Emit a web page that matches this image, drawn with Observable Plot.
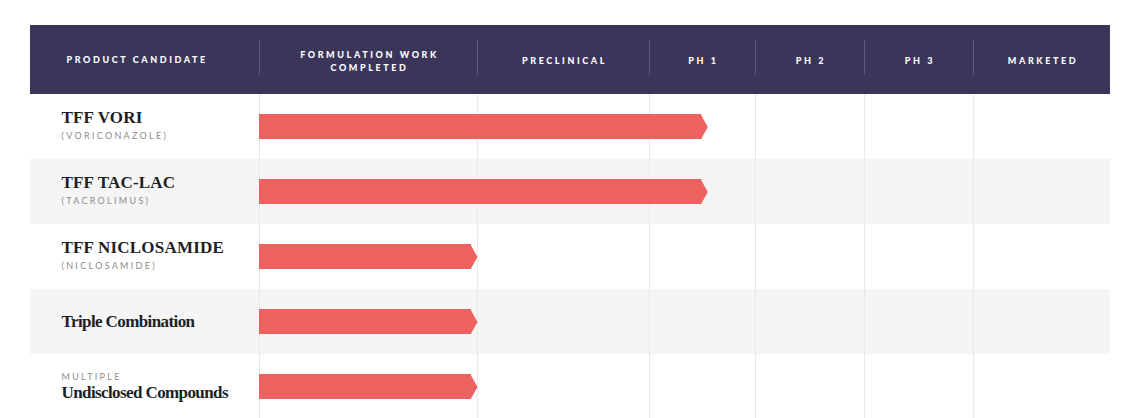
<!DOCTYPE html>
<html><head><meta charset="utf-8">
<script src="https://cdn.jsdelivr.net/npm/d3@7"></script>
<script src="https://cdn.jsdelivr.net/npm/@observablehq/plot@0.6"></script>
<style>
html,body{margin:0;padding:0;background:#fff;}
g[aria-description="header-label"] text{letter-spacing:2.6px;}
g[aria-description="subtitle"] text{letter-spacing:2.3px;}
g[aria-description="title-mixed"] text{letter-spacing:-0.6px;}
g[aria-description="title-upper"] text{letter-spacing:0.2px;}
</style></head><body><div id="chart"></div>
<script>
// Column headers (pipeline stages), left edge index of each column
const stageLabels = ["PRODUCT CANDIDATE", "FORMULATION WORK\nCOMPLETED", "PRECLINICAL", "PH 1", "PH 2", "PH 3", "MARKETED"];
const stageStarts = [-1, 0, 1, 2, 3, 4, 5];
// Products
const productNames = ["TFF VORI", "TFF TAC-LAC", "TFF NICLOSAMIDE", "Triple Combination", "Undisclosed Compounds"];
const productSubtitles = ["(VORICONAZOLE)", "(TACROLIMUS)", "(NICLOSAMIDE)", "", ""];
const productPrefixes = ["", "", "", "", "MULTIPLE"];
// progress measured in stage units from the start of "Formulation work completed"
const progressStart = [0, 0, 0, 0, 0];
const progressEnd = [2.55, 2.55, 1, 1, 1];

const headerColor = "#3b3659";
const barColor = "#ef6161";

const stages = stageLabels.map((label, i) => ({label, start: stageStarts[i], mid: stageStarts[i] + 0.5}));
const rows = productNames.map((name, i) => ({
  row: i, name, subtitle: productSubtitles[i], prefix: productPrefixes[i],
  start: progressStart[i], end: progressEnd[i]
}));
const dividers = stageStarts.slice(1);

const arrowHead = {
  draw(context) {
    context.moveTo(-7, -12.5);
    context.lineTo(0, 0);
    context.lineTo(-7, 12.5);
    context.closePath();
  }
};

const serif = "'Liberation Serif', 'DejaVu Serif', serif";
const sans = "Lato, 'Noto Sans', sans-serif";

const chart = Plot.plot({
  width: 1132,
  height: 418,
  margin: 0,
  style: {background: "#fff", overflow: "visible"},
  x: {type: "linear", domain: [-1, 0, 1, 2, 3, 4, 5, 6], range: [30, 259, 477, 649, 755, 864, 973, 1110], axis: null},
  y: {type: "linear", domain: [-1, 0, 5], range: [25, 94, 419], axis: null},
  marks: [
    // alternating row backgrounds
    Plot.rect(rows.filter(d => d.row % 2 === 1), {x1: -1, x2: 6, y1: "row", y2: d => d.row + 1, fill: "#f5f5f5"}),
    // vertical grid lines in body
    Plot.ruleX(dividers, {y1: 0, y2: 5, stroke: "#e8e8e8", strokeWidth: 1}),
    // header band
    Plot.rect([0], {x1: -1, x2: 6, y1: -1, y2: 0, fill: headerColor}),
    Plot.ruleX(dividers, {y1: -1, y2: 0, insetTop: 15, insetBottom: 19, stroke: "#5d587c", strokeWidth: 1}),
    Plot.text(stages.filter(d => d.start >= 0), {
      ariaDescription: "header-label", x: "mid", y: -0.5, text: "label", dx: 1,
      fill: "#fff", fontSize: 9, fontWeight: 900, fontFamily: sans, lineHeight: 1.45
    }),
    Plot.text(stages.filter(d => d.start < 0), {
      ariaDescription: "header-label", x: "start", y: -0.5, text: "label", textAnchor: "start", dx: 36,
      fill: "#fff", fontSize: 9, fontWeight: 900, fontFamily: sans
    }),
    // bars
    Plot.rect(rows, {x1: "start", x2: "end", y1: "row", y2: d => d.row + 1, insetTop: 20, insetBottom: 20, insetRight: 6, fill: barColor}),
    Plot.dot(rows, {x: "end", y: d => d.row + 0.5, symbol: arrowHead, fill: barColor, stroke: "none"}),
    // product labels
    Plot.text(rows.filter(d => d.subtitle), {
      ariaDescription: "title-upper", x: -1, y: d => d.row + 0.5, text: "name", textAnchor: "start", dx: 31, dy: -9,
      fill: "#1f1f1f", fontSize: 17, fontWeight: "bold", fontFamily: serif
    }),
    Plot.text(rows.filter(d => d.subtitle), {
      ariaDescription: "subtitle", x: -1, y: d => d.row + 0.5, text: "subtitle", textAnchor: "start", dx: 31, dy: 9,
      fill: "#8c8c8c", fontSize: 9, fontFamily: sans
    }),
    Plot.text(rows.filter(d => !d.subtitle && !d.prefix), {
      ariaDescription: "title-mixed", x: -1, y: d => d.row + 0.5, text: "name", textAnchor: "start", dx: 31, dy: 0,
      fill: "#1f1f1f", fontSize: 17, fontWeight: "bold", fontFamily: serif
    }),
    Plot.text(rows.filter(d => d.prefix), {
      ariaDescription: "subtitle", x: -1, y: d => d.row + 0.5, text: "prefix", textAnchor: "start", dx: 31, dy: -10,
      fill: "#8c8c8c", fontSize: 9, fontFamily: sans
    }),
    Plot.text(rows.filter(d => d.prefix), {
      ariaDescription: "title-mixed", x: -1, y: d => d.row + 0.5, text: "name", textAnchor: "start", dx: 31, dy: 6,
      fill: "#1f1f1f", fontSize: 17, fontWeight: "bold", fontFamily: serif
    })
  ]
});
document.getElementById("chart").appendChild(chart);
</script>
</body></html>
